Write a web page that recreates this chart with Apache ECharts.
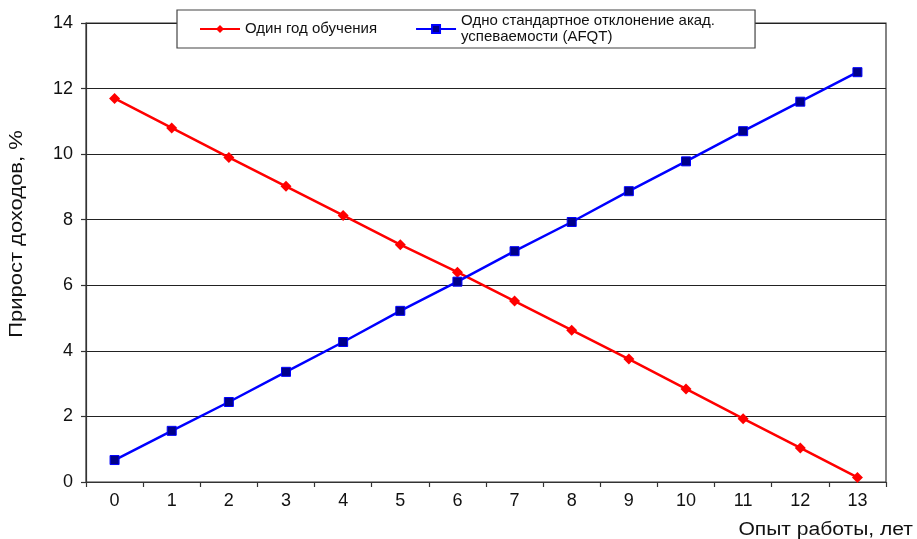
<!DOCTYPE html>
<html><head><meta charset="utf-8">
<script src="https://cdn.jsdelivr.net/npm/echarts@6/dist/echarts.min.js"></script>
<style>html,body{margin:0;padding:0;background:#fff}#c{width:917px;height:539px}</style>
</head><body><div id="c"></div>
<script>
var categories = ['0','1','2','3','4','5','6','7','8','9','10','11','12','13'];
var schoolingYear = [11.7, 10.8, 9.9, 9.02, 8.13, 7.24, 6.4, 5.52, 4.63, 3.75, 2.84, 1.93, 1.04, 0.14];
var afqtStd = [0.67, 1.56, 2.44, 3.36, 4.27, 5.22, 6.11, 7.04, 7.93, 8.87, 9.78, 10.7, 11.6, 12.5];
var seriesNames = ['Один год обучения', 'Одно стандартное отклонение акад.\nуспеваемости (AFQT)'];
var yTicks = [0, 2, 4, 6, 8, 10, 12, 14];
var xTitle = 'Опыт работы, лет';
var yTitle = 'Прирост доходов, %';

var FONT = '"Liberation Sans", Arial, sans-serif';
var chart = echarts.init(document.getElementById('c'));
chart.setOption({
  animation: false,
  backgroundColor: '#fff',
  textStyle: {fontFamily: FONT},
  grid: {left: 86, right: 31, top: 23, bottom: 57, show: true, borderColor: '#333', borderWidth: 1.2, backgroundColor: 'transparent'},
  legend: {
    left: 177, top: 10,
    padding: [3, 40, 3, 22],
    itemGap: 38, itemWidth: 40, itemHeight: 10,
    backgroundColor: '#fff', borderColor: '#444', borderWidth: 1.2,
    textStyle: {fontSize: 15, color: '#111', lineHeight: 16, fontFamily: FONT},
    data: seriesNames
  },
  xAxis: {
    type: 'category', data: categories, boundaryGap: true,
    axisLine: {lineStyle: {color: '#333', width: 1.2}},
    axisTick: {show: true, length: 5, lineStyle: {color: '#333', width: 1.2}},
    axisLabel: {fontSize: 18, color: '#111', margin: 10, fontFamily: FONT},
    splitLine: {show: false}
  },
  yAxis: {
    type: 'value', min: yTicks[0], max: yTicks[yTicks.length - 1], interval: 2,
    axisLine: {show: true, lineStyle: {color: '#333', width: 1.2}},
    axisTick: {show: true, length: 5, lineStyle: {color: '#333', width: 1.2}},
    axisLabel: {fontSize: 18, color: '#111', margin: 13, fontFamily: FONT},
    splitLine: {show: true, lineStyle: {color: '#222', width: 1.2}}
  },
  graphic: [
    {type: 'text', x: 913, y: 530, scaleX: 1.17, style: {text: xTitle, fontSize: 18, fill: '#111', fontFamily: FONT, align: 'right', verticalAlign: 'middle'}},
    {type: 'text', x: 8, y: 234, rotation: Math.PI / 2, scaleX: 1.22, style: {text: yTitle, fontSize: 18, fill: '#111', fontFamily: FONT, align: 'center', verticalAlign: 'top'}}
  ],
  series: [
    {name: seriesNames[0], type: 'line', data: schoolingYear, symbol: 'diamond', symbolSize: 11,
     lineStyle: {color: '#ff0000', width: 2.5}, itemStyle: {color: '#ff0000'}},
    {name: seriesNames[1], type: 'line', data: afqtStd, symbol: 'rect', symbolSize: 9,
     lineStyle: {color: '#0000ff', width: 2.5}, itemStyle: {color: '#00008b', borderColor: '#0000ff', borderWidth: 1}}
  ]
});
</script></body></html>
